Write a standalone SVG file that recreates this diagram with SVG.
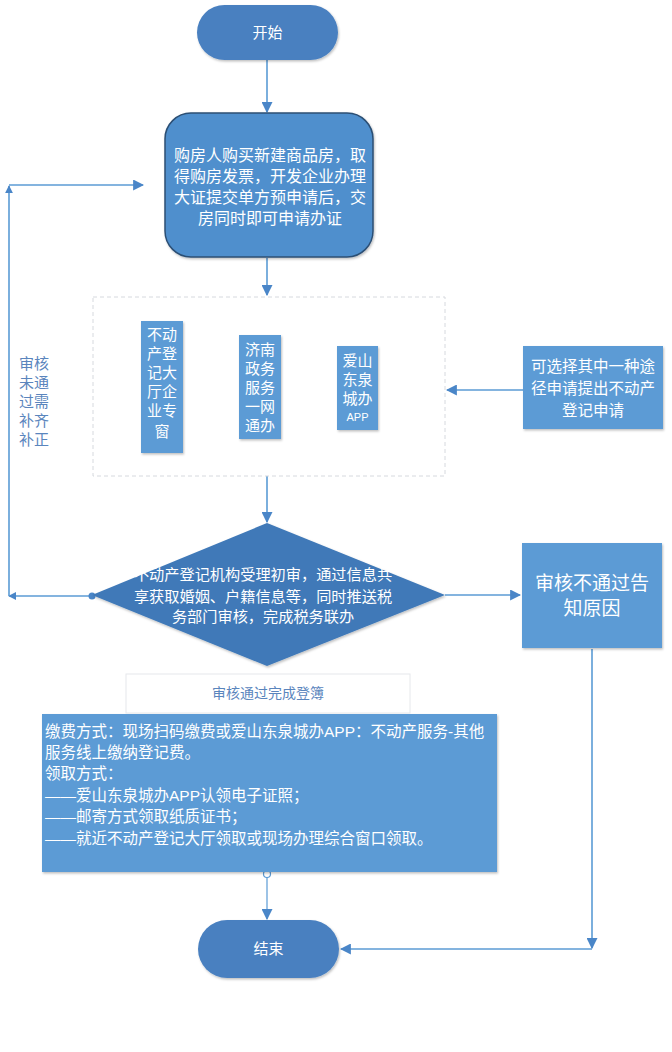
<svg xmlns="http://www.w3.org/2000/svg" width="672" height="1052" viewBox="0 0 672 1052">
<style>
text{font-family:"Liberation Sans","Noto Sans CJK SC",sans-serif;fill:#fff;}
.c{text-anchor:middle;}
.pill{fill:#4a80c0;}
.box{fill:#5b9bd5;}
.ln{stroke:#5b9bd5;stroke-width:1.6;fill:none;}
.lbl{fill:#5a85bd;}
</style>
<defs>
<marker id="ah" viewBox="0 0 10 10" refX="9" refY="5" markerWidth="8" markerHeight="8" markerUnits="userSpaceOnUse" orient="auto">
<path d="M0,0 L10,5 L0,10 z" fill="#4a86c8"/>
</marker>
<marker id="ahb" viewBox="0 0 10 10" refX="9" refY="5" markerWidth="11" markerHeight="11" markerUnits="userSpaceOnUse" orient="auto">
<path d="M0,0 L10,5 L0,10 z" fill="#4a86c8"/>
</marker>
<filter id="sh" x="-10%" y="-10%" width="120%" height="120%"><feDropShadow dx="1" dy="1.5" stdDeviation="1.2" flood-color="#000" flood-opacity="0.25"/></filter>
</defs>
<g id="connectors">
<line class="ln" x1="267" y1="60" x2="267" y2="112" marker-end="url(#ahb)"/>
<line class="ln" x1="267" y1="258" x2="267" y2="295" marker-end="url(#ahb)"/>
<line class="ln" x1="523" y1="390" x2="447" y2="390" marker-end="url(#ahb)"/>
<line class="ln" x1="267" y1="476" x2="267" y2="522" marker-end="url(#ahb)"/>
<line class="ln" x1="445" y1="595" x2="520" y2="595" marker-end="url(#ahb)"/>
<path class="ln" d="M592,649 L592,948" marker-end="url(#ahb)"/>
<path class="ln" d="M592,949 L341,949" marker-end="url(#ahb)"/>
<path class="ln" d="M92,596 L9,596" marker-end="url(#ah)"/>
<path class="ln" d="M9,596 L9,186" marker-end="url(#ah)"/>
<path class="ln" d="M9,185 L143,185" marker-end="url(#ahb)"/>
<circle cx="92" cy="596" r="3.5" fill="#4a86c8"/>
<line class="ln" x1="267" y1="877" x2="267" y2="919" marker-end="url(#ahb)" style="stroke-width:1.2"/>
<circle cx="267" cy="874" r="3.5" fill="#fff" stroke="#5b9bd5" stroke-width="1.2"/>
</g>
<g id="start">
<rect class="pill" x="197" y="5" width="141" height="55" rx="27.5" filter="url(#sh)"/>
<text class="c" x="267.5" y="38" font-size="15">开始</text>
</g>
<g id="buy">
<rect x="165" y="113" width="208" height="144" rx="26" fill="#4f8fcd" stroke="#2c4f74" stroke-width="1.5" filter="url(#sh)"/>
<text class="c" font-size="16"><tspan x="270" y="161">购房人购买新建商品房，取</tspan><tspan x="270" y="182">得购房发票，开发企业办理</tspan><tspan x="270" y="203">大证提交单方预申请后，交</tspan><tspan x="270" y="224">房同时即可申请办证</tspan></text>
</g>
<g id="channels">
<rect x="93" y="297" width="352" height="179" fill="none" stroke="#d6d9de" stroke-width="1" stroke-dasharray="4,3"/>
</g>
<g id="ch1">
<rect class="box" x="141" y="321" width="42" height="132" filter="url(#sh)"/>
<text class="c" font-size="15"><tspan x="162" y="340">不动</tspan><tspan x="162" y="359">产登</tspan><tspan x="162" y="378">记大</tspan><tspan x="162" y="397">厅企</tspan><tspan x="162" y="416">业专</tspan><tspan x="162" y="437">窗</tspan></text>
</g>
<g id="ch2">
<rect class="box" x="239" y="335" width="42" height="104" filter="url(#sh)"/>
<text class="c" font-size="15"><tspan x="260" y="355">济南</tspan><tspan x="260" y="374">政务</tspan><tspan x="260" y="393">服务</tspan><tspan x="260" y="412">一网</tspan><tspan x="260" y="431">通办</tspan></text>
</g>
<g id="ch3">
<rect class="box" x="337" y="346" width="41" height="84" filter="url(#sh)"/>
<text class="c" font-size="15"><tspan x="357.5" y="366">爱山</tspan><tspan x="357.5" y="385">东泉</tspan><tspan x="357.5" y="404">城办</tspan></text>
<text class="c" x="357.5" y="421" font-size="11">APP</text>
</g>
<g id="choose">
<rect class="box" x="523" y="346" width="140" height="83" filter="url(#sh)"/>
<text class="c" font-size="15.5"><tspan x="593" y="372">可选择其中一种途</tspan><tspan x="593" y="394">径申请提出不动产</tspan><tspan x="593" y="416">登记申请</tspan></text>
</g>
<g id="retry-label">
<text class="lbl" font-size="15"><tspan x="19" y="369">审核</tspan><tspan x="19" y="388">未通</tspan><tspan x="19" y="407">过需</tspan><tspan x="19" y="426">补齐</tspan><tspan x="19" y="445">补正</tspan></text>
</g>
<g id="review">
<polygon points="267,523 445,595 267,666 92,595" fill="#3f79b8" filter="url(#sh)"/>
<text class="c" font-size="15.2"><tspan x="263" y="580">不动产登记机构受理初审，通过信息共</tspan><tspan x="263" y="602">享获取婚姻、户籍信息等，同时推送税</tspan><tspan x="263" y="622">务部门审核，完成税务联办</tspan></text>
</g>
<g id="reject">
<rect class="box" x="522" y="543" width="140" height="105" filter="url(#sh)"/>
<text class="c" font-size="19"><tspan x="592" y="590">审核不通过告</tspan><tspan x="592" y="615">知原因</tspan></text>
</g>
<g id="pass-label">
<rect x="126" y="674" width="284" height="39" fill="#fff" stroke="#e6e8eb" stroke-width="1"/>
<text class="c lbl" x="268" y="698" font-size="14">审核通过完成登簿</text>
</g>
<g id="pay">
<rect class="box" x="42" y="714" width="455" height="158" filter="url(#sh)"/>
<text font-size="15.5"><tspan x="45" y="737">缴费方式：现场扫码缴费或爱山东泉城办APP：不动产服务-其他</tspan><tspan x="45" y="758">服务线上缴纳登记费。</tspan><tspan x="45" y="779">领取方式：</tspan><tspan x="45" y="801">——爱山东泉城办APP认领电子证照；</tspan><tspan x="45" y="822">——邮寄方式领取纸质证书；</tspan><tspan x="45" y="844">——就近不动产登记大厅领取或现场办理综合窗口领取。</tspan></text>
</g>
<g id="end">
<rect class="pill" x="198" y="920" width="141" height="58" rx="29" filter="url(#sh)"/>
<text class="c" x="268.5" y="954" font-size="15">结束</text>
</g>
</svg>
